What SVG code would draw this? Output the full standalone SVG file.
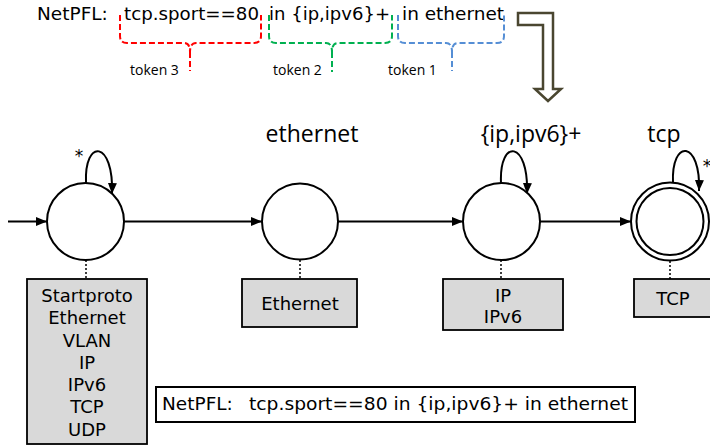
<svg xmlns="http://www.w3.org/2000/svg" width="710" height="447" viewBox="0 0 710 447">
<style>
.code{font-family:"DejaVu Sans",Verdana,sans-serif;font-size:18.5px;fill:#000}
.tok{font-family:"Open Sans","Liberation Sans",sans-serif;font-size:14px;fill:#000}
.lab{font-family:"Open Sans","Liberation Sans",sans-serif;font-size:23px;fill:#000}
.star{font-family:"DejaVu Sans",sans-serif;font-size:17px;fill:#000}
.box{fill:#d9d9d9;stroke:#000;stroke-width:1.8}
.bt{font-family:"DejaVu Sans",Verdana,sans-serif;font-size:18px;fill:#000;text-anchor:middle}
.st{fill:#fff;stroke:#000;stroke-width:2}
.edge{fill:none;stroke:#000;stroke-width:2}
.dot{stroke:#000;stroke-width:1.5;stroke-dasharray:2,2}
.br{fill:none;stroke-width:2;stroke-dasharray:6,3}
</style>
<defs>
<marker id="ah" markerWidth="11" markerHeight="9" refX="11" refY="4.5" orient="auto" markerUnits="userSpaceOnUse">
<path d="M0,0 L11,4.5 L0,9 Z" fill="#000"/>
</marker>
</defs>

<g id="expression">
<text class="code" x="37" y="20">NetPFL:</text>
<text class="code" x="124" y="20" textLength="135" lengthAdjust="spacingAndGlyphs">tcp.sport==80</text>
<text class="code" x="269" y="20" textLength="121" lengthAdjust="spacingAndGlyphs">in {ip,ipv6}+</text>
<text class="code" x="402" y="20" textLength="102" lengthAdjust="spacingAndGlyphs">in ethernet</text>
</g>

<g id="brackets">
<path class="br" stroke="#ff0000" d="M120,15 L120,36 Q120,43 127,43 L184,43 Q190,43 190,52 Q190,43 196,43 L254,43 Q261,43 261,36 L261,15 M190,52 L190,71"/>
<path class="br" stroke="#00b050" d="M269,15 L269,36 Q269,43 276,43 L326,43 Q332,43 332,52 Q332,43 338,43 L385,43 Q392,43 392,36 L392,15 M332,52 L332,72"/>
<path class="br" stroke="#558ed5" d="M398,15 L398,36 Q398,43 405,43 L446,43 Q452,43 452,52 Q452,43 458,43 L497,43 Q504,43 504,36 L504,15 M452,52 L452,71"/>
<text class="tok" x="130" y="75">token 3</text>
<text class="tok" x="273" y="75">token 2</text>
<text class="tok" x="388" y="75">token 1</text>
</g>

<g id="bigarrow">
<path d="M518,13 L553,13 L553,89 L561,89 L548,101 L535,89 L543,89 L543,25 L518,25 Z" fill="#fff" stroke="#4a4630" stroke-width="2.5" stroke-linejoin="miter"/>
</g>

<g id="connectors">
<line class="edge" x1="8" y1="221.5" x2="47" y2="221.5" marker-end="url(#ah)"/>
<line class="edge" x1="124" y1="221.5" x2="262" y2="221.5" marker-end="url(#ah)"/>
<line class="edge" x1="338" y1="221.5" x2="463" y2="221.5" marker-end="url(#ah)"/>
<line class="edge" x1="540" y1="221.5" x2="631" y2="221.5" marker-end="url(#ah)"/>
<path class="edge" d="M86,183 C84,138 114,140 112,194" marker-end="url(#ah)"/>
<path class="edge" d="M501,183 C499,138 529,140 527,194" marker-end="url(#ah)"/>
<path class="edge" d="M673,183 C671,138 701,140 699,191" marker-end="url(#ah)"/>
<line class="dot" x1="86" y1="260" x2="86" y2="279"/>
<line class="dot" x1="300" y1="260" x2="300" y2="279"/>
<line class="dot" x1="501" y1="260" x2="501" y2="279"/>
<line class="dot" x1="670" y1="261" x2="670" y2="279"/>
</g>

<g id="state0">
<circle class="st" cx="85.5" cy="221.5" r="38.5"/>
<text class="star" x="79" y="162" text-anchor="middle">*</text>
</g>
<g id="state1">
<circle class="st" cx="300" cy="221.5" r="38"/>
<text class="lab" x="312" y="142" text-anchor="middle">ethernet</text>
</g>
<g id="state2">
<circle class="st" cx="501.5" cy="221.5" r="38.5"/>
<text class="lab" x="531" y="142" text-anchor="middle">{ip,ipv6}+</text>
</g>
<g id="state3">
<circle class="st" cx="670" cy="221.5" r="39"/>
<circle class="st" cx="670" cy="221.5" r="33.5"/>
<text class="lab" x="664" y="142" text-anchor="middle">tcp</text>
<text class="star" x="707" y="172" text-anchor="middle">*</text>
</g>

<g id="box0">
<rect class="box" x="27" y="279" width="120" height="165"/>
<text class="bt" x="87" y="302">Startproto</text>
<text class="bt" x="87" y="324">Ethernet</text>
<text class="bt" x="87" y="347">VLAN</text>
<text class="bt" x="87" y="369">IP</text>
<text class="bt" x="87" y="391">IPv6</text>
<text class="bt" x="87" y="413">TCP</text>
<text class="bt" x="87" y="436">UDP</text>
</g>
<g id="box1">
<rect class="box" x="242" y="279" width="115" height="48"/>
<text class="bt" x="300" y="310">Ethernet</text>
</g>
<g id="box2">
<rect class="box" x="443" y="279" width="120" height="51"/>
<text class="bt" x="503" y="302">IP</text>
<text class="bt" x="503" y="323">IPv6</text>
</g>
<g id="box3">
<rect class="box" x="634" y="279" width="80" height="38"/>
<text class="bt" x="673" y="305">TCP</text>
</g>

<g id="legend">
<rect x="156" y="387" width="479" height="35" fill="#fff" stroke="#000" stroke-width="2"/>
<text class="code" x="162" y="410">NetPFL:</text>
<text class="code" x="249" y="410" textLength="379" lengthAdjust="spacingAndGlyphs">tcp.sport==80 in {ip,ipv6}+ in ethernet</text>
</g>
</svg>
